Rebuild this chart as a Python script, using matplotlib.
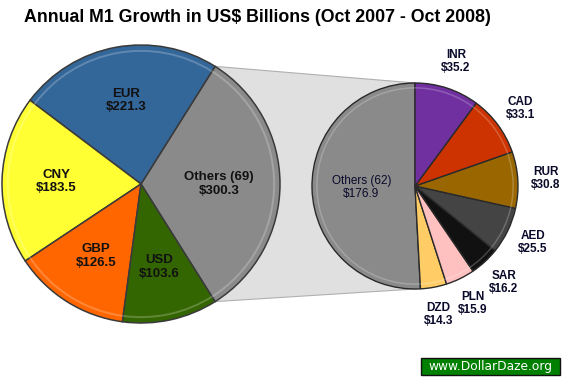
import numpy as np
import matplotlib.pyplot as plt
from matplotlib.patches import Polygon, FancyBboxPatch

plt.rcParams['font.family'] = ['Liberation Sans', 'DejaVu Sans']

# left pie: main currencies + the rest
main_names = ['Others (69)', 'EUR', 'CNY', 'GBP', 'USD']
main_vals = [300.3, 221.3, 183.5, 126.5, 103.6]
main_colors = ['#8a8a8a', '#336699', '#ffff33', '#ff6600', '#336600']

# right pie: breakdown of the rest
rest_names = ['Others (62)', 'DZD', 'PLN', 'SAR', 'AED', 'RUR', 'CAD', 'INR']
rest_vals = [176.9, 14.3, 15.9, 16.2, 25.5, 30.8, 33.1, 35.2]
rest_colors = ['#8a8a8a', '#ffcc66', '#ffc0c0', '#111111', '#444444',
               '#996600', '#cc3300', '#7030a0']

W, H = 564, 379
fig = plt.figure(figsize=(W / 100, H / 100), dpi=100)
ax = fig.add_axes([0, 0, 1, 1])


def reset_axes():
    ax.set_xlim(0, W)
    ax.set_ylim(0, H)
    ax.set_aspect('equal')
    ax.axis('off')


c1, r1 = (141, 195), 139
c2, r2 = (415, 193), 103

start1 = -main_vals[0] / sum(main_vals) * 360 / 2
w1, _ = ax.pie(main_vals, colors=main_colors, center=c1, radius=r1,
               startangle=start1, counterclock=True, frame=True,
               wedgeprops=dict(edgecolor='#3a3a3a', linewidth=1.1, zorder=3))
w2, _ = ax.pie(rest_vals, colors=rest_colors, center=c2, radius=r2,
               startangle=90, counterclock=True, frame=True,
               wedgeprops=dict(edgecolor='#2a2a2a', linewidth=1.0, zorder=3))

# light ring near the rim, a rough stand-in for the bevel
ring = [(1, 1, 1, 0.22)] * len(main_vals)
ax.pie(main_vals, colors=ring, center=c1, radius=r1 * 0.965, startangle=start1,
       frame=True, wedgeprops=dict(width=2, edgecolor='none', zorder=4))
ring = [(1, 1, 1, 0.22)] * len(rest_vals)
ax.pie(rest_vals, colors=ring, center=c2, radius=r2 * 0.96, startangle=90,
       frame=True, wedgeprops=dict(width=1.5, edgecolor='none', zorder=4))
reset_axes()

# connector between the two pies
t_top = np.radians(w1[0].theta2)
t_bot = np.radians(w1[0].theta1)
p_top = (c1[0] + r1 * np.cos(t_top), c1[1] + r1 * np.sin(t_top))
p_bot = (c1[0] + r1 * np.cos(t_bot), c1[1] + r1 * np.sin(t_bot))
poly = Polygon([p_top, (c2[0], c2[1] + r2), (c2[0], c2[1] - r2), p_bot],
               closed=True, facecolor='#e0e0e0', edgecolor='#b0b0b0',
               linewidth=0.8, zorder=1)
ax.add_patch(poly)

# labels, left pie
for w, name, v in zip(w1, main_names, main_vals):
    a = np.radians((w.theta1 + w.theta2) / 2)
    d = 0.56 if name.startswith('Others') else 0.61
    x = c1[0] + d * r1 * np.cos(a)
    y = c1[1] + d * r1 * np.sin(a)
    ax.text(x, y, f'{name}\n${v:.1f}', ha='center', va='center', fontsize=9.5,
            fontweight='bold', color='#111111', linespacing=1.15, zorder=6)

# labels, right pie
for w, name, v in zip(w2, rest_names, rest_vals):
    a = np.radians((w.theta1 + w.theta2) / 2)
    if name.startswith('Others'):
        x = c2[0] + 0.52 * r2 * np.cos(a)
        y = c2[1] + 0.52 * r2 * np.sin(a)
        wt = 'normal'
    else:
        x = c2[0] + 1.27 * r2 * np.cos(a)
        y = c2[1] + 1.27 * r2 * np.sin(a)
        wt = 'bold'
    ax.text(x, y, f'{name}\n${v:.1f}', ha='center', va='center', fontsize=8.5,
            fontweight=wt, color='#0a0a2a', linespacing=1.1, zorder=6)

fig.text(257 / W, 1 - 18 / H, 'Annual M1 Growth in US$ Billions (Oct 2007 - Oct 2008)',
         ha='center', va='center', fontsize=12.8, fontweight='bold')

box = FancyBboxPatch((421, 4), 139, 17, boxstyle='square,pad=0',
                     facecolor='#008000', edgecolor='#111111', linewidth=1, zorder=7)
ax.add_patch(box)
ax.text(490, 12.5, 'www.DollarDaze.org', ha='center', va='center', fontsize=8.8,
        color='white', family='DejaVu Sans', zorder=8)

fig.savefig('out.png', dpi=100)
